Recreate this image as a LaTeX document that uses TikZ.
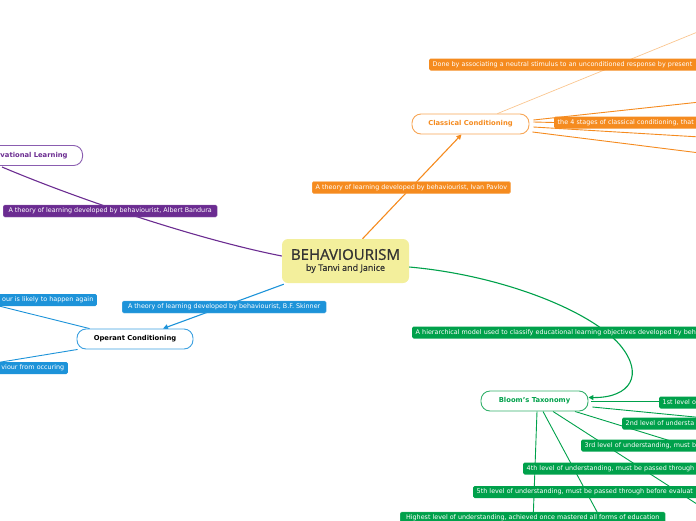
\documentclass[tikz,border=0pt]{standalone}
\usepackage{fontspec}
\setmainfont{DejaVu Sans}
\newfontfamily\titlefont[FakeBold=0.9]{Open Sans}
\newfontfamily\subfont[FakeBold=0.5]{Open Sans}
\usetikzlibrary{arrows.meta,backgrounds}
\definecolor{orn}{HTML}{F58B1F}
\definecolor{ornlt}{HTML}{F7A656}
\definecolor{ornpale}{HTML}{FAC690}
\definecolor{purp}{HTML}{6B2C91}
\definecolor{purplt}{HTML}{8A5DB0}
\definecolor{blu}{HTML}{1D93D9}
\definecolor{blult}{HTML}{3BA0E0}
\definecolor{grn}{HTML}{00A14B}
\definecolor{grnlt}{HTML}{33B06B}
\definecolor{yel}{HTML}{F3EF9C}
\definecolor{ink}{HTML}{333333}
\begin{document}
\begin{tikzpicture}[x=1pt,y=-1pt,
  lbl/.style={rounded corners=1.5pt, text=white, font=\fontsize{6.4}{7.5}\selectfont,
    inner xsep=3.5pt, inner ysep=0pt, minimum height=12pt, anchor=west,
    text height=4.8pt, text depth=1.3pt},
  lblR/.style={lbl, text width=320pt, align=left},
  lblL/.style={lbl, anchor=east, text width=200pt, align=right},
  topic/.style={rounded corners=9pt, fill=white, line width=0.9pt,
    font=\fontsize{6.8}{8}\selectfont\bfseries, minimum height=20pt, inner xsep=0pt},
  conn/.style={line width=1.1pt},
  thin/.style={line width=0.9pt},
  tip/.style={-{Triangle[length=5pt,width=5pt]}}
]
\useasboundingbox (0,0) rectangle (696,520);
\clip (0,0) rectangle (696,520);

% central node
\node[fill=yel, rounded corners=6pt, minimum width=127pt, minimum height=44pt,
  align=center, text=ink, inner sep=0pt] (c) at (345.5,261)
  {{\titlefont\fontsize{15}{16}\selectfont BEHAVIOURISM}\\[-1pt]
   {\subfont\fontsize{9}{10}\selectfont by Tanvi and Janice}};

% topic nodes
\node[topic, draw=ornlt, text=orn, minimum width=117pt] (cc) at (470.5,124) {Classical Conditioning};
\node[topic, draw=purplt, text=purp, anchor=east, text width=140pt, align=right, inner xsep=15pt] (obs) at (83,155.5) {Observational Learning};
\node[topic, draw=blult, text=black, minimum width=116pt] (op) at (135,339) {Operant Conditioning};
\node[topic, draw=grnlt, text=grn, minimum width=107pt, minimum height=20pt] (bl) at (534.5,401) {Bloom's Taxonomy};

% connector labels
\node[lbl, fill=orn, draw=orn!70!white, line width=0.4pt] (lpav) at (312,187.5) {A theory of learning developed by behaviourist, Ivan Pavlov};
\node[lblR, fill=orn] (ldone) at (429,64.5) {Done by associating a neutral stimulus to an unconditioned response by present};
\node[lblR, fill=orn] (lstages) at (554,122.5) {the 4 stages of classical conditioning, that};
\node[lbl, fill=purp, draw=purp!70!white, line width=0.4pt, minimum width=214pt] (lban) at (3,211) {A theory of learning developed by behaviourist, Albert Bandura};
\node[lbl, fill=blu, draw=blu!70!white, line width=0.4pt, minimum width=204pt] (lski) at (122,307) {A theory of learning developed by behaviourist, B.F. Skinner};
\node[lblL, fill=blu] (lagain) at (97,300) {our is likely to happen again};
\node[lblL, fill=blu] (locc) at (68,368) {viour from occuring};
\node[lblR, fill=grn] (lhier) at (412,332.5) {A hierarchical model used to classify educational learning objectives developed by beh};
\node[lblR, fill=grn] (l1) at (659,402.5) {1st level o};
\node[lblR, fill=grn] (l2) at (622,423.5) {2nd level of understa};
\node[lblR, fill=grn] (l3) at (581,445.5) {3rd level of understanding, must b};
\node[lblR, fill=grn] (l4) at (523,468.5) {4th level of understanding, must be passed through};
\node[lblR, fill=grn] (l5) at (473,492) {5th level of understanding, must be passed through before evaluat};
\node[lbl, fill=grn, draw=grn!70!white, line width=0.4pt, minimum width=265pt] (l6) at (400,518) {Highest level of understanding, achieved once mastered all forms of education};

% free ends of connectors (off the page)
\coordinate (obsfoot) at (2,167);
\coordinate (ccA) at (700,102);
\coordinate (ccB) at (700,137);
\coordinate (ccC) at (700,153);
\coordinate (ccD) at (700,31);
\coordinate (opA) at (-5,305);
\coordinate (opB) at (-5,363);
\coordinate (blA) at (700,401);
\coordinate (blB) at (700,417.5);
\coordinate (blC) at (700,450);
\coordinate (blD) at (700,506);
\coordinate (blE) at (603,523);
\coordinate (blF) at (533,523);

\begin{scope}[on background layer]
  % main branches
  \draw[conn, orn, tip] ([xshift=17pt]c.north) -- ([xshift=-9pt]cc.south);
  \draw[conn, purp] ([yshift=5pt]c.west) .. controls (200,240) and (80,200) .. (obsfoot);
  \draw[conn, blu, tip] ([xshift=2pt,yshift=-1pt]c.south west) -- ([xshift=28pt]op.north);
  \draw[conn, grn, tip] ([yshift=-6pt]c.east) .. controls (500,275) and (590,310) .. (620,345)
     .. controls (645,375) and (630,398) .. ([yshift=3.5pt]bl.east);
  % classical conditioning sub-branches
  \draw[line width=0.7pt, ornpale] ([xshift=27pt]cc.north) -- (ccD);
  \draw[thin, orn] ([xshift=4pt,yshift=4pt]cc.east) -- (ccA);
  \draw[thin, orn] ([xshift=4pt,yshift=2pt]cc.east) -- (lstages.west);
  \draw[thin, orn] ([xshift=4pt,yshift=-3pt]cc.east) -- (ccB);
  \draw[thin, orn] ([xshift=3pt,yshift=-8pt]cc.east) -- (ccC);
  % operant sub-branches
  \draw[thin, blu] ([xshift=13pt]op.north west) -- (opA);
  \draw[thin, blu] ([xshift=1pt]op.south west) -- (opB);
  % bloom sub-branches
  \draw[thin, grn] ([xshift=3pt]bl.east) -- (blA);
  \draw[thin, grn] ([xshift=4pt,yshift=-6pt]bl.east) -- (blB);
  \draw[thin, grn] ([xshift=40.5pt]bl.south) -- (blC);
  \draw[thin, grn] ([xshift=18.5pt]bl.south) -- (blD);
  \draw[thin, grn] ([xshift=8.5pt]bl.south) -- (blE);
  \draw[thin, grn] ([xshift=2.5pt]bl.south) -- (blF);
\end{scope}
\end{tikzpicture}
\end{document}
